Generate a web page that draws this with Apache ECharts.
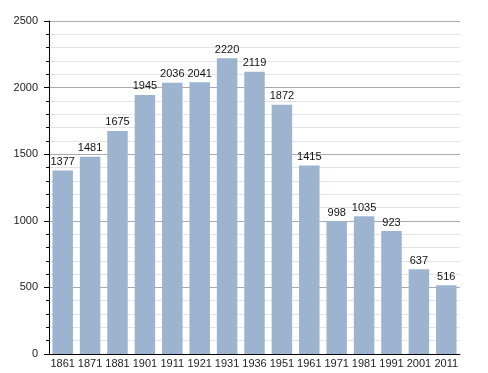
<!DOCTYPE html>
<html><head><meta charset="utf-8">
<script src="https://cdn.jsdelivr.net/npm/echarts@6/dist/echarts.min.js"></script>
<style>html,body{margin:0;padding:0;background:#fff}#c{width:488px;height:373px}</style>
</head><body><div id="c"></div>
<script>
const years = ['1861','1871','1881','1901','1911','1921','1931','1936','1951','1961','1971','1981','1991','2001','2011'];
const population = [1377,1481,1675,1945,2036,2041,2220,2119,1872,1415,998,1035,923,637,516];
const yTicks = [0,500,1000,1500,2000,2500];

const chart = echarts.init(document.getElementById('c'));
chart.setOption({
  animation: false,
  grid: {left: 49, right: 28, top: 21, bottom: 19},
  xAxis: {
    type: 'category', data: years,
    axisLine: {lineStyle: {color: '#000', width: 1}},
    axisTick: {show: false},
    axisLabel: {interval: 0, color: '#222', fontSize: 11, fontFamily: 'Liberation Sans, Arial', margin: 4}
  },
  yAxis: {
    type: 'value', min: yTicks[0], max: yTicks[yTicks.length-1], interval: 500,
    axisLine: {show: true, lineStyle: {color: '#000'}},
    axisTick: {show: true, length: 5, lineStyle: {color: '#000'}},
    minorTick: {show: true, splitNumber: 5, length: 3, lineStyle: {color: '#000'}},
    splitLine: {show: true, lineStyle: {color: '#aaaaaa'}},
    minorSplitLine: {show: true, lineStyle: {color: '#e4e4e4'}},
    axisLabel: {color: '#222', fontSize: 11, fontFamily: 'Liberation Sans, Arial', margin: 11,
      formatter: v => String(v)}
  },
  series: [{
    type: 'bar', data: population, barWidth: 20.5,
    itemStyle: {color: '#9cb4d0'},
    label: {show: true, position: 'top', color: '#111', fontSize: 11, fontFamily: 'Liberation Sans, Arial', distance: 3}
  }]
});
</script></body></html>
